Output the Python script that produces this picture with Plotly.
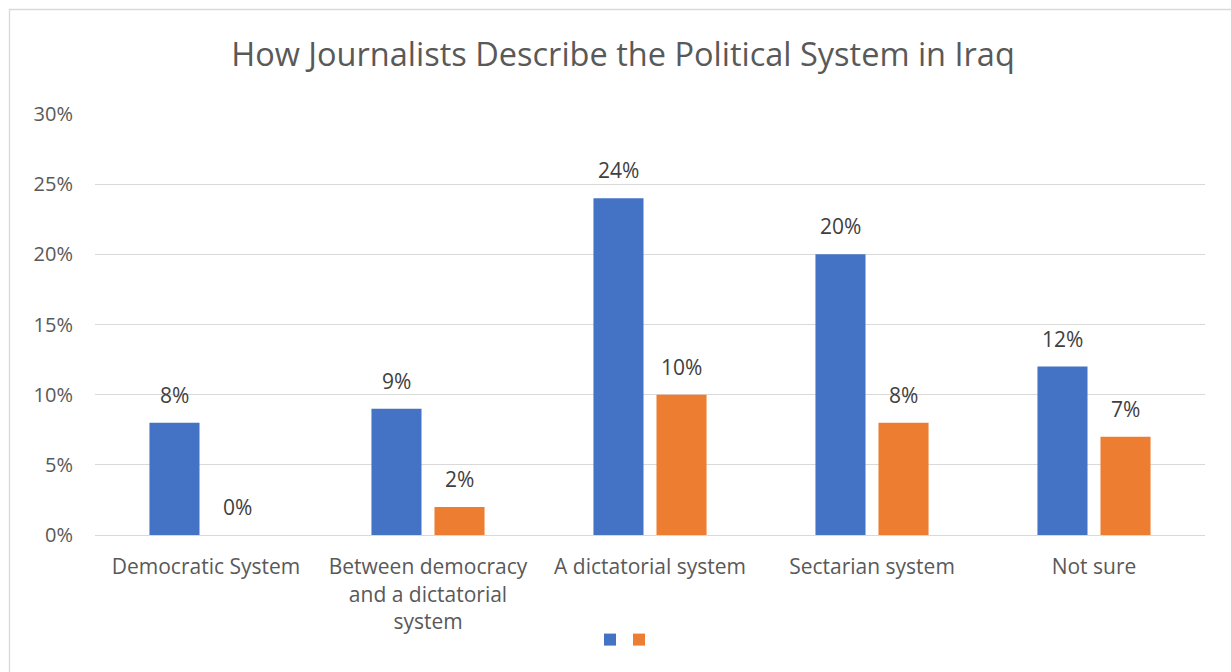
import plotly.graph_objects as go

categories = [
    "Democratic System",
    "Between democracy<br>and a dictatorial<br>system",
    "A dictatorial system",
    "Sectarian system",
    "Not sure",
]
series_a = [8, 9, 24, 20, 12]
series_b = [0, 2, 10, 8, 7]
y_ticks = [0, 5, 10, 15, 20, 25, 30]
y_tick_labels = [f"{v}%" for v in y_ticks]

BLUE = "#4472C4"
ORANGE = "#ED7D31"
TEXT = "#595959"
LABEL = "#404040"
FONT = "Open Sans"

W, H = 1231, 672
ML, MR, MT, MB = 95, 26, 114, 137
pw, ph = W - ML - MR, H - MT - MB
slot = pw / len(categories)
BARGAP = 0.432

fig = go.Figure()
series = [(series_a, BLUE, "legend", 610), (series_b, ORANGE, "legend2", 639)]
for i, (vals, color, leg, _) in enumerate(series):
    fig.add_trace(go.Bar(
        x=categories, y=vals, name=" ", legend=leg,
        marker=dict(color=color, line=dict(width=0)),
        hoverinfo="x+y",
    ))
    # value labels above each bar
    offset = (-1 if i == 0 else 1) * slot * (1 - BARGAP) / 4
    for c, v in zip(categories, vals):
        fig.add_annotation(x=c, y=v, text=f"{v}%", showarrow=False,
                           xanchor="center", yanchor="bottom", xshift=offset, yshift=12,
                           font=dict(family=FONT, size=21, color=LABEL))

# outer chart border
fig.add_shape(type="rect", xref="paper", yref="paper",
              x0=(9.5 - ML) / pw, x1=(W + 10 - ML) / pw,
              y0=-(H + 10 - MT - ph) / ph, y1=(MT - 9.5) / ph + 1,
              line=dict(color="#D9D9D9", width=1.3), layer="below")

legend_common = dict(orientation="h", xanchor="left", yanchor="middle",
                     y=-(640 - MT - ph) / ph, font=dict(size=14),
                     bgcolor="rgba(0,0,0,0)", borderwidth=0)
legends = {}
for _, _, leg, cx in series:
    legends[leg] = dict(legend_common, x=(cx - 20 - ML) / pw)

fig.update_layout(
    width=W, height=H,
    margin=dict(l=ML, r=MR, t=MT, b=MB),
    paper_bgcolor="white", plot_bgcolor="white",
    barmode="group", bargap=BARGAP, bargroupgap=0.206,
    title=dict(text="How Journalists Describe the Political System in Iraq",
               x=(623 - ML) / pw, xref="paper", xanchor="center",
               y=1 - 55 / H, yanchor="middle",
               font=dict(family=FONT, size=32.5, color=TEXT)),
    font=dict(family=FONT, color=TEXT),
    showlegend=True,
    **legends,
    xaxis=dict(tickfont=dict(family=FONT, size=21, color=TEXT), showline=True,
               linecolor="#D9D9D9", ticks="", fixedrange=True, ticklabelstandoff=13),
    yaxis=dict(range=[0, 30], tickvals=y_ticks, ticktext=y_tick_labels,
               tickfont=dict(family=FONT, size=20, color=TEXT), gridcolor="#D9D9D9",
               gridwidth=1, zeroline=False, ticklabelstandoff=21, showline=False,
               fixedrange=True),
)

fig.write_html("out.html")
